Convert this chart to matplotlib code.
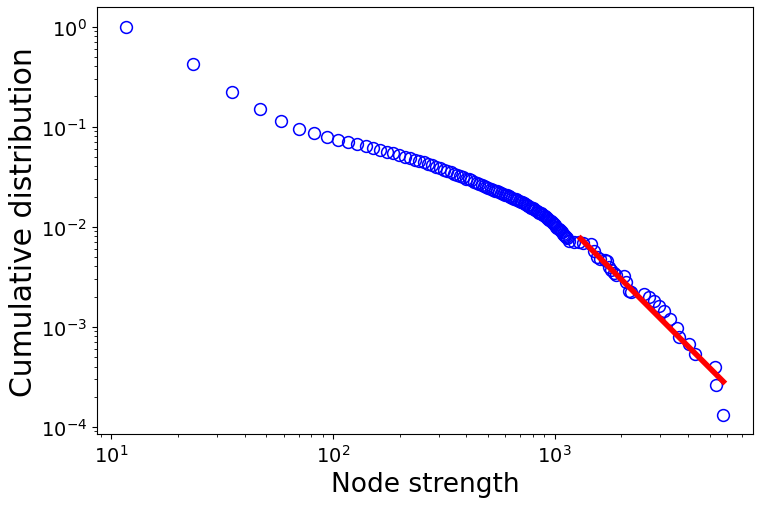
"""
Cumulative distribution of node strength (log-log) with power-law fit on the tail
"""

import matplotlib
matplotlib.use("Agg")
import matplotlib.pyplot as plt

# node strength values
strength = [
    11.7, 23.4, 35.1, 46.8, 58.5, 70.2, 81.9, 93.6,
    105.3, 117.0, 128.7, 140.4, 152.1, 163.8, 175.5, 187.2, 198.9, 210.6,
    222.3, 234.0, 245.7, 257.4, 269.1, 280.8, 292.5, 304.2, 315.9, 327.6,
    339.3, 351.0, 362.7, 374.4, 386.1, 397.8, 409.5, 421.2, 432.9, 444.6,
    456.3, 468.0, 479.7, 491.4, 503.1, 514.8, 526.5, 538.2, 549.9, 561.6,
    573.3, 585.0, 596.7, 608.4, 620.1, 631.8, 643.5, 655.2, 666.9, 678.6,
    690.3, 702.0, 713.7, 725.4, 737.1, 748.8, 760.5, 772.2, 783.9, 795.6,
    807.3, 819.0, 830.7, 842.4, 854.1, 865.8, 877.5, 889.2, 900.9, 912.6,
    924.3, 936.0, 947.7, 959.4, 971.1, 982.8, 994.5, 1006.2, 1017.9, 1029.6,
    1041.3, 1053.0, 1064.7, 1076.4, 1088.1, 1099.8, 1111.5, 1123.2, 1134.9,
    1161, 1222, 1288, 1340, 1452, 1504, 1556, 1600, 1680, 1726, 1757,
    1790, 1849, 1900, 2051, 2108, 2160, 2200, 2521, 2656, 2799, 2947,
    3104, 3322, 3558, 3622, 4018, 4303, 5292, 5334, 5768,
]

# cumulative distribution P(S >= s)
cum_dist = [
    1.0, 0.425, 0.223, 0.151, 0.113, 0.0948, 0.0857, 0.0781,
    0.0730, 0.0703, 0.0667, 0.0633, 0.0604, 0.0581, 0.0559, 0.0539, 0.0518, 0.0500,
    0.0484, 0.0468, 0.0453, 0.0440, 0.0425, 0.0412, 0.0398, 0.0386, 0.0371, 0.0360,
    0.0350, 0.0338, 0.0328, 0.0320, 0.0310, 0.0301, 0.0296, 0.0290, 0.0282, 0.0276,
    0.0268, 0.0263, 0.0256, 0.0249, 0.0245, 0.0240, 0.0235, 0.0229, 0.0226, 0.0221,
    0.0218, 0.0212, 0.0209, 0.0206, 0.0202, 0.0199, 0.0194, 0.0191, 0.0188, 0.0183,
    0.0180, 0.0177, 0.0175, 0.0171, 0.0168, 0.0165, 0.0162, 0.0158, 0.0155, 0.0152,
    0.0150, 0.0147, 0.0144, 0.0141, 0.0138, 0.0136, 0.0133, 0.0131, 0.0128, 0.0125,
    0.0122, 0.0119, 0.0116, 0.0113, 0.0111, 0.0108, 0.0106, 0.0103, 0.0100, 0.0097,
    0.0094, 0.0092, 0.0090, 0.0088, 0.0085, 0.0083, 0.0081, 0.0079, 0.0077,
    0.00721, 0.00705, 0.00695, 0.0069, 0.00668, 0.00573, 0.00492, 0.0047, 0.0046, 0.00455, 0.00391,
    0.0037, 0.00343, 0.0033, 0.00318, 0.00277, 0.00229, 0.0022, 0.00212, 0.00199, 0.00182, 0.00162,
    0.00144, 0.00119, 0.00098, 0.000796, 0.00067, 0.000532, 0.000399, 0.000264, 0.000132,
]

# power-law fit over the tail
fit_strength = [1310, 5768]
fit_cum_dist = [0.0076, 0.000283]


def create_plot():
    fig, ax = plt.subplots(figsize=(7.6, 5.06), dpi=100)
    fig.subplots_adjust(left=0.127, right=0.991, top=0.984, bottom=0.140)

    ax.loglog(strength, cum_dist, 'o', markerfacecolor='none',
              markeredgecolor='blue', markersize=8.5, markeredgewidth=1.1)
    ax.loglog(fit_strength, fit_cum_dist, '-', color='red', linewidth=4)

    ax.set_xlabel('Node strength', fontsize=19)
    ax.set_ylabel('Cumulative distribution', fontsize=21.5, labelpad=2)
    ax.tick_params(axis='both', which='major', labelsize=14)

    fig.savefig('out.png', dpi=100, facecolor='white')
    plt.close(fig)


if __name__ == "__main__":
    create_plot()
